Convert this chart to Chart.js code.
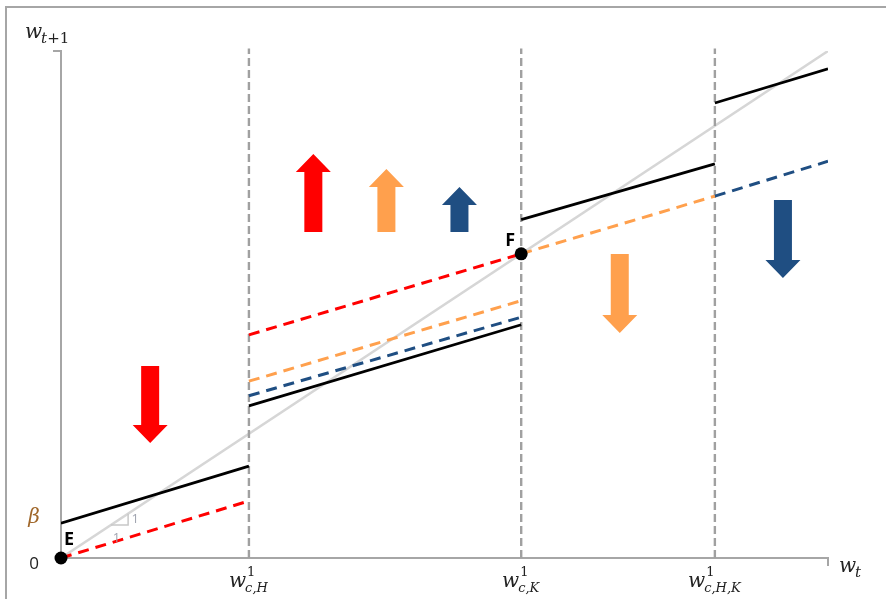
<!DOCTYPE html>
<html>
<head>
<meta charset="utf-8">
<script src="https://cdn.jsdelivr.net/npm/chart.js@4.4.1/dist/chart.umd.min.js"></script>
<style>
  html, body { margin: 0; padding: 0; background: #fff; }
  canvas { display: block; }
</style>
</head>
<body>
<canvas id="c" width="886" height="599"></canvas>
<script>
// Wage thresholds on the w_t axis and their subscripts
const thresholds = [9.8, 24, 34.1];
const thresholdSubs = ['c,H', 'c,K', 'c,H,K'];

// Intercept of the first branch of the transition map
const beta = 2.75;

// 45-degree line w_{t+1} = w_t
const diagonal = [[0, 0], [40, 40]];

// Transition map branches (solid black)
const blackSegments = [
  [[0, beta], [9.8, 7.25]],
  [[9.8, 12.0], [24, 18.4]],
  [[24, 26.7], [34.1, 31.1]],
  [[34.1, 35.9], [40, 38.6]]
];

// Shifted transition maps (dashed)
const redSegments = [
  [[0, 0], [9.8, 4.5]],
  [[9.8, 17.6], [24, 24]]
];
const orangeSegments = [
  [[9.8, 13.95], [24, 20.3]],
  [[24, 24], [34.1, 28.55]]
];
const blueSegments = [
  [[9.8, 12.8], [24, 19.0]],
  [[34.1, 28.55], [40, 31.3]]
];

// Unit-slope marker near the origin
const slopeMarker = [[2.6, 2.6], [3.5, 2.6], [3.5, 3.5]];

// Steady states
const steadyStates = [
  { x: 0, y: 0, label: 'E' },
  { x: 24, y: 24, label: 'F' }
];

// Direction of the shifts (w_t position, tail, tip)
const shiftArrows = [
  { x: 4.65, from: 15.15, to: 9.07, series: 'red' },
  { x: 13.16, from: 25.72, to: 31.87, series: 'red' },
  { x: 16.97, from: 25.72, to: 30.69, series: 'orange' },
  { x: 20.78, from: 25.72, to: 29.27, series: 'blue' },
  { x: 29.14, from: 23.98, to: 17.75, series: 'orange' },
  { x: 37.65, from: 28.24, to: 22.09, series: 'blue' }
];

const colors = {
  red: '#ff0000',
  orange: '#ffa04d',
  blue: '#1f4e82',
  black: '#000000',
  diag: '#d6d6d6',
  guide: '#a0a0a0'
};

const toPts = seg => seg.map(([x, y]) => ({ x, y }));

const datasets = [];

datasets.push({
  data: toPts(diagonal), borderColor: colors.diag, borderWidth: 2.5, order: 9
});

thresholds.forEach(t => datasets.push({
  data: [{ x: t, y: 0 }, { x: t, y: 40.2 }],
  borderColor: colors.guide, borderWidth: 2.4, borderDash: [8, 4], order: 8, clip: false
}));

datasets.push({
  data: toPts(slopeMarker), borderColor: '#c8c8c8', borderWidth: 1.5, order: 7
});

const addSegs = (segs, color, dashed, order) => segs.forEach(s => datasets.push({
  data: toPts(s), borderColor: color, borderWidth: dashed ? 3 : 2.8,
  borderDash: dashed ? [11, 7] : [], order
}));
addSegs(redSegments, colors.red, true, 4);
addSegs(orangeSegments, colors.orange, true, 5);
addSegs(blueSegments, colors.blue, true, 5);
addSegs(blackSegments, colors.black, false, 2);

datasets.push({
  data: steadyStates.map(p => ({ x: p.x, y: p.y })),
  showLine: false, pointRadius: 6.5, pointBackgroundColor: '#000',
  pointBorderColor: '#000', pointBorderWidth: 0, order: 0, clip: false
});

// Draws a base symbol with optional superscript / subscript pieces.
// Each script is a list of [text, italic] runs.
function drawScripted(ctx, x, baseline, base, sup, sub, baseSize, scriptSize, color) {
  const fam = '"DejaVu Serif", serif';
  ctx.fillStyle = color;
  ctx.textBaseline = 'alphabetic';
  ctx.textAlign = 'left';
  ctx.font = `italic ${baseSize}px ${fam}`;
  const wb = ctx.measureText(base).width;
  ctx.fillText(base, x, baseline);
  const runs = (list, x0, y0) => {
    let cx = x0;
    list.forEach(([t, it]) => {
      ctx.font = `${it ? 'italic ' : ''}${scriptSize}px ${fam}`;
      ctx.fillText(t, cx, y0);
      cx += ctx.measureText(t).width;
    });
  };
  if (sup) runs(sup, x + wb + 1, baseline - 11);
  if (sub) runs(sub, x + wb - 1, baseline + 5);
}

function runsWidth(ctx, list, size) {
  let w = 0;
  list.forEach(([t, it]) => {
    ctx.font = `${it ? 'italic ' : ''}${size}px "DejaVu Serif", serif`;
    w += ctx.measureText(t).width;
  });
  return w;
}

const decor = {
  id: 'decor',
  beforeDraw(chart) {
    const ctx = chart.ctx;
    ctx.save();
    ctx.fillStyle = '#fff';
    ctx.fillRect(0, 0, chart.width, chart.height);
    ctx.strokeStyle = '#a6a6a6';
    ctx.lineWidth = 2;
    ctx.beginPath();
    ctx.moveTo(6, 600);
    ctx.lineTo(6, 7);
    ctx.lineTo(886, 7);
    ctx.stroke();
    ctx.restore();
  },
  afterDatasetsDraw(chart) {
    const ctx = chart.ctx;
    const xs = chart.scales.x, ys = chart.scales.y;
    const X = v => xs.getPixelForValue(v), Y = v => ys.getPixelForValue(v);
    ctx.save();

    // axis end caps
    ctx.strokeStyle = '#a6a6a6';
    ctx.lineWidth = 2;
    ctx.beginPath();
    ctx.moveTo(X(0) - 8, Y(40));
    ctx.lineTo(X(0), Y(40));
    ctx.moveTo(X(40), Y(0));
    ctx.lineTo(X(40), Y(0) + 8);
    ctx.stroke();

    // block arrows
    shiftArrows.forEach(a => {
      const cx = X(a.x), y0 = Y(a.from), y1 = Y(a.to);
      const dir = Math.sign(y1 - y0);
      const headLen = 18, headHalf = 17.5, shaftHalf = 9;
      const yb = y1 - dir * headLen;
      ctx.fillStyle = colors[a.series];
      ctx.beginPath();
      ctx.moveTo(cx - shaftHalf, y0);
      ctx.lineTo(cx - shaftHalf, yb);
      ctx.lineTo(cx - headHalf, yb);
      ctx.lineTo(cx, y1);
      ctx.lineTo(cx + headHalf, yb);
      ctx.lineTo(cx + shaftHalf, yb);
      ctx.lineTo(cx + shaftHalf, y0);
      ctx.closePath();
      ctx.fill();
    });

    // slope labels
    ctx.fillStyle = '#a0a4b0';
    ctx.font = '13px "Open Sans", sans-serif';
    ctx.textAlign = 'center';
    ctx.textBaseline = 'middle';
    ctx.fillText('1', X(slopeMarker[1][0]) + 7, Y((slopeMarker[1][1] + slopeMarker[2][1]) / 2));
    ctx.fillText('1', X((slopeMarker[0][0] + slopeMarker[1][0]) / 2) - 3, Y(slopeMarker[0][1]) + 13);

    // steady-state labels
    ctx.fillStyle = '#000';
    ctx.font = 'bold 18px "Open Sans", sans-serif';
    const offs = { E: [8, -18], F: [-11, -13] };
    steadyStates.forEach(p => {
      const o = offs[p.label];
      ctx.fillText(p.label, X(p.x) + o[0], Y(p.y) + o[1]);
    });

    // y-axis labels
    ctx.fillStyle = '#222';
    ctx.font = '17px "Open Sans", sans-serif';
    ctx.fillText('0', 34, Y(0) + 6);
    ctx.fillStyle = '#a0672a';
    ctx.font = 'italic 20px "DejaVu Serif", serif';
    ctx.fillText('\u03B2', 34, Y(beta) - 5);

    // threshold labels
    thresholds.forEach((t, i) => {
      ctx.font = 'italic 20px "DejaVu Serif", serif';
      const wb = ctx.measureText('w').width;
      const sub = [[thresholdSubs[i], true]];
      const ws = runsWidth(ctx, sub, 13);
      const x0 = X(t) - (wb + ws) / 2;
      drawScripted(ctx, x0, 587, 'w', [['1', false]], sub, 20, 13, '#222');
    });

    // axis titles
    drawScripted(ctx, 25, 38, 'w', null, [['t', true], ['+1', false]], 20, 15, '#222');
    drawScripted(ctx, 839, 572, 'w', null, [['t', true]], 20, 15, '#222');

    ctx.restore();
  }
};

new Chart(document.getElementById('c'), {
  type: 'scatter',
  data: { datasets },
  options: {
    responsive: false,
    animation: false,
    showLine: true,
    layout: { padding: { left: 61, right: 58, top: 51, bottom: 41 } },
    elements: { point: { radius: 0, hoverRadius: 0 }, line: { tension: 0, borderCapStyle: 'butt' } },
    plugins: { legend: { display: false }, tooltip: { enabled: false } },
    scales: {
      x: {
        type: 'linear', min: 0, max: 40,
        grid: { display: false, drawTicks: false },
        ticks: { display: false },
        border: { display: true, color: '#a6a6a6', width: 2 }
      },
      y: {
        type: 'linear', min: 0, max: 40,
        grid: { display: false, drawTicks: false },
        ticks: { display: false },
        border: { display: true, color: '#a6a6a6', width: 2 }
      }
    }
  },
  plugins: [decor]
});
</script>
</body>
</html>
